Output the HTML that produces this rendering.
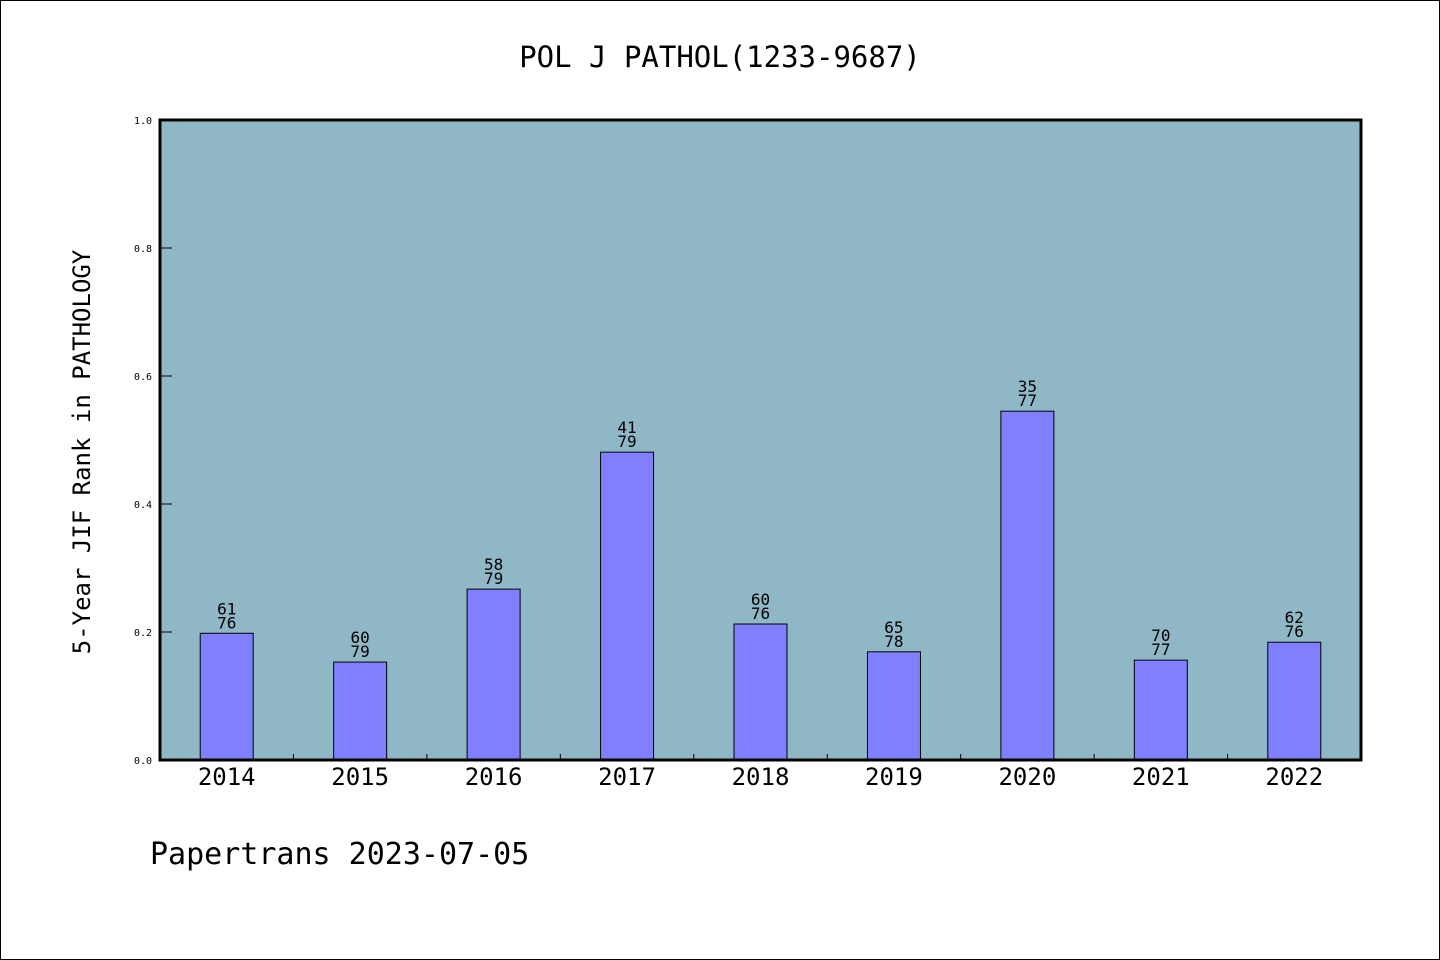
<!DOCTYPE html>
<html><head><meta charset="utf-8"><style>
body{margin:0;background:#fff;}
svg{display:block;font-family:"DejaVu Sans Mono","Liberation Mono",monospace;}
</style></head><body>
<svg width="1440" height="960">
<rect x="0.5" y="0.5" width="1439" height="959" fill="#fff" stroke="#000"/>
<text x="720" y="67" text-anchor="middle" font-size="29">POL J PATHOL(1233-9687)</text>
<rect x="160" y="120" width="1201" height="640" fill="#8fb7c5"/>
<g id="bars"></g>
<rect x="160" y="120" width="1201" height="640" fill="none" stroke="#000" stroke-width="3"/>
<g id="axes"></g>
<text transform="translate(90,452) rotate(-90)" text-anchor="middle" font-size="24">5-Year JIF Rank in PATHOLOGY</text>
<text x="150" y="864" font-size="30">Papertrans 2023-07-05</text>
</svg>
<script>
const categories=["2014","2015","2016","2017","2018","2019","2020","2021","2022"];
const values=[0.198,0.153,0.267,0.481,0.2125,0.169,0.545,0.156,0.184];
const ranks=["61","60","58","41","60","65","35","70","62"];
const totals=["76","79","79","79","76","78","77","77","76"];
const yTicks=[0,0.2,0.4,0.6,0.8,1.0];
const NS="http://www.w3.org/2000/svg";
const X0=160,W=1201,Y0=760,H=640;
const band=W/categories.length;
const y=v=>Y0-v*H;
const xc=i=>X0+band*(i+0.5);
function mk(t,a,p){const e=document.createElementNS(NS,t);for(const k in a)e.setAttribute(k,a[k]);p.appendChild(e);return e;}
const bars=document.getElementById('bars'),axes=document.getElementById('axes');
categories.forEach((c,i)=>{
  const b=mk('rect',{x:xc(i)-26.5,y:y(values[i]),width:53,height:Y0-y(values[i]),fill:'#8080ff',stroke:'#000','stroke-width':1},bars);
  
  
  const t1=mk('text',{x:xc(i),y:y(values[i])-19,'text-anchor':'middle','font-size':16},bars);t1.textContent=ranks[i];
  
  
  const t2=mk('text',{x:xc(i),y:y(values[i])-5,'text-anchor':'middle','font-size':16},bars);t2.textContent=totals[i];
  
  
  const xl=mk('text',{x:xc(i),y:785,'text-anchor':'middle','font-size':24},axes);xl.textContent=c;
  
  
  if(i>0){const tk=mk('line',{x1:X0+band*i,x2:X0+band*i,y1:Y0,y2:Y0-6,stroke:'#000'},axes);
  
  }
});
yTicks.forEach(v=>{
  const tk=mk('line',{x1:X0,x2:X0+12,y1:y(v),y2:y(v),stroke:'#000'},axes);
  
  
  const l=mk('text',{x:152,y:y(v)+4,'text-anchor':'end','font-size':10},axes);l.textContent=v.toFixed(1);
  
  
});
</script>
</body></html>
